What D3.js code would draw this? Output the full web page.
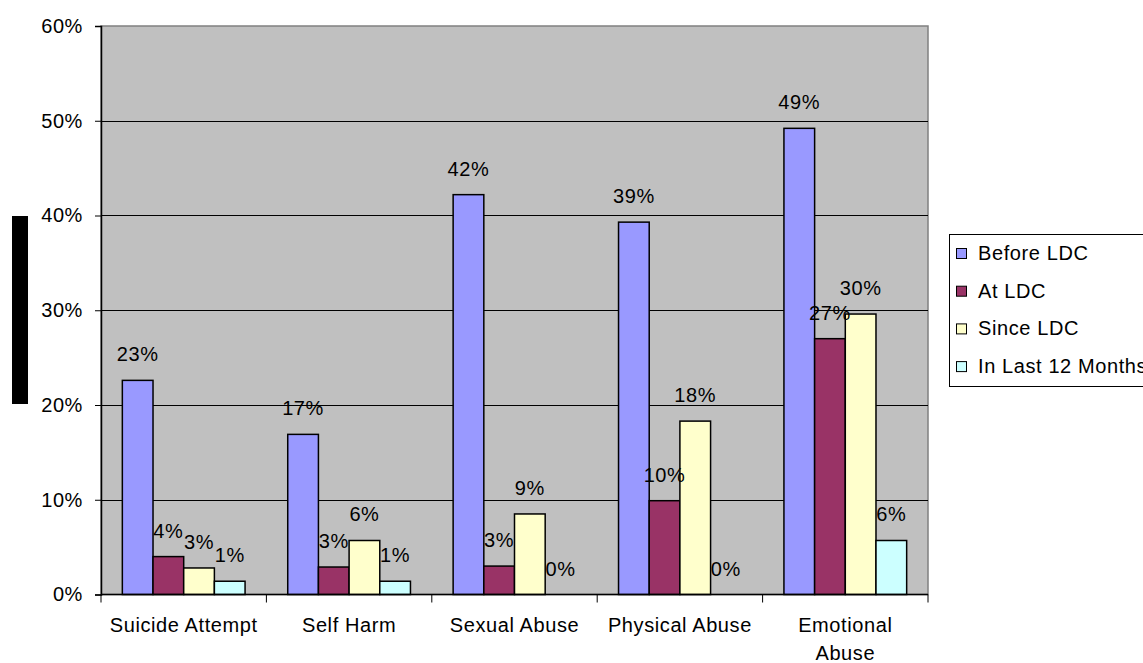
<!DOCTYPE html>
<html>
<head>
<meta charset="utf-8">
<script src="https://cdn.jsdelivr.net/npm/d3@7"></script>
<style>
  body { margin: 0; background: #fff; }
  text { font-family: "Liberation Sans", Arial, sans-serif; fill: #000; letter-spacing: 0.6px; }
</style>
</head>
<body>
<div id="chart"></div>
<script>
// data
var categories = ["Suicide Attempt", "Self Harm", "Sexual Abuse", "Physical Abuse", "Emotional Abuse"]
var seriesNames = ["Before LDC", "At LDC", "Since LDC", "In Last 12 Months"]
var beforeLDC = [0.226, 0.169, 0.422, 0.393, 0.492]
var atLDC = [0.040, 0.029, 0.030, 0.099, 0.270]
var sinceLDC = [0.028, 0.057, 0.085, 0.183, 0.296]
var last12 = [0.014, 0.014, 0, 0, 0.057]
var yTicks = [0, 0.1, 0.2, 0.3, 0.4, 0.5, 0.6]
var colors = ["#9999FF", "#993366", "#FFFFCC", "#CCFFFF"]

var seriesValues = [beforeLDC, atLDC, sinceLDC, last12]

var W = 1143, H = 663
var plot = {left: 101, right: 928, top: 26, bottom: 594.5}

var svg = d3.select("#chart")
  .append("svg")
  .attr("width", W)
  .attr("height", H)

// black block on the left
svg.append("rect")
  .attr("x", 12).attr("y", 216)
  .attr("width", 16).attr("height", 188)
  .attr("fill", "#000")

var x = d3.scaleBand()
  .domain(categories)
  .range([plot.left, plot.right])

var groupPad = x.bandwidth() * 0.129
var xs = d3.scaleBand()
  .domain(seriesNames)
  .range([groupPad, x.bandwidth() - groupPad])

var y = d3.scaleLinear()
  .domain([0, 0.6])
  .range([plot.bottom, plot.top])

// plot background
svg.append("rect")
  .attr("x", plot.left).attr("y", plot.top)
  .attr("width", plot.right - plot.left)
  .attr("height", plot.bottom - plot.top)
  .attr("fill", "#C0C0C0")
  .attr("stroke", "#808080")
  .attr("stroke-width", 1.5)

// gridlines
svg.append("g")
  .selectAll("line")
  .data(yTicks.slice(1, -1))
  .enter()
  .append("line")
  .attr("x1", plot.left).attr("x2", plot.right)
  .attr("y1", function(d) { return Math.round(y(d)) + 0.5 })
  .attr("y2", function(d) { return Math.round(y(d)) + 0.5 })
  .attr("stroke", "#000")
  .attr("stroke-width", 1)

// bars
var rows = []
categories.forEach(function(c, i) {
  seriesNames.forEach(function(s, j) {
    rows.push({cat: c, series: s, value: seriesValues[j][i], color: colors[j]})
  })
})

svg.append("g")
  .selectAll("rect")
  .data(rows.filter(function(d) { return d.value > 0 }))
  .enter()
  .append("rect")
  .attr("x", function(d) { return x(d.cat) + xs(d.series) })
  .attr("y", function(d) { return y(d.value) })
  .attr("width", xs.bandwidth())
  .attr("height", function(d) { return y(0) - y(d.value) })
  .attr("fill", function(d) { return d.color })
  .attr("stroke", "#000")
  .attr("stroke-width", 1.5)

// y axis
var yAxis = svg.append("g")
  .attr("transform", "translate(" + plot.left + ",0)")
  .call(d3.axisLeft(y).tickValues(yTicks).tickFormat(d3.format(".0%")).tickSize(6).tickPadding(12))
yAxis.selectAll("text").style("font-size", "20px").style("font-family", "Liberation Sans, Arial, sans-serif")
yAxis.select(".domain").attr("stroke", "#000").attr("stroke-width", 1.5)

// x axis
var xAxis = svg.append("g")
  .attr("transform", "translate(0," + plot.bottom + ")")
xAxis.append("line")
  .attr("x1", plot.left).attr("x2", plot.right)
  .attr("y1", 0).attr("y2", 0)
  .attr("stroke", "#000").attr("stroke-width", 1.5)
xAxis.selectAll("line.tick")
  .data(categories.concat(["end"]))
  .enter()
  .append("line")
  .attr("class", "tick")
  .attr("x1", function(d, i) { return i < categories.length ? x(d) : plot.right })
  .attr("x2", function(d, i) { return i < categories.length ? x(d) : plot.right })
  .attr("y1", 0).attr("y2", 8)
  .attr("stroke", "#000")

var xLabels = xAxis.selectAll("text")
  .data(categories)
  .enter()
  .append("text")
  .attr("text-anchor", "middle")
  .style("font-size", "20px")
  .attr("transform", function(d) { return "translate(" + (x(d) + x.bandwidth() / 2) + ",37)" })

xLabels.each(function(d) {
  var lines = d == "Emotional Abuse" ? ["Emotional", "Abuse"] : [d]
  var t = d3.select(this)
  lines.forEach(function(l, k) {
    t.append("tspan").attr("x", 0).attr("y", k * 28.5).text(l)
  })
})

// value labels
svg.append("g")
  .selectAll("text")
  .data(rows)
  .enter()
  .append("text")
  .attr("x", function(d) { return x(d.cat) + xs(d.series) + xs.bandwidth() / 2 })
  .attr("y", function(d) { return y(d.value) - 19 })
  .attr("text-anchor", "middle")
  .style("font-size", "20px")
  .text(function(d) { return d3.format(".0%")(d.value) })

// legend
var legend = svg.append("g")
legend.append("rect")
  .attr("x", 949.5).attr("y", 234.5)
  .attr("width", 220).attr("height", 152)
  .attr("fill", "#fff")
  .attr("stroke", "#000")
  .attr("stroke-width", 1)

var items = legend.selectAll("g.item")
  .data(seriesNames)
  .enter()
  .append("g")
  .attr("class", "item")
  .attr("transform", function(d, i) { return "translate(0," + (253 + i * 37.7) + ")" })

items.append("rect")
  .attr("x", 956.5).attr("y", -4.5)
  .attr("width", 10).attr("height", 10)
  .attr("fill", function(d, i) { return colors[i] })
  .attr("stroke", "#000")
  .attr("stroke-width", 1)

items.append("text")
  .attr("x", 978)
  .attr("y", 7)
  .style("font-size", "20px")
  .text(function(d) { return d })
</script>
</body>
</html>
